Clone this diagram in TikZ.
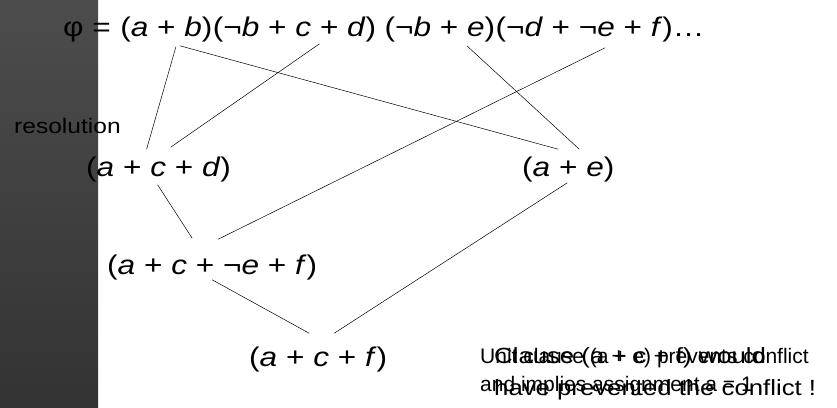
\documentclass[tikz,border=0pt]{standalone}
\usepackage{fontspec}
\setmainfont{Liberation Sans}[FakeStretch=1.17]
\newfontfamily\plainsans{Liberation Sans}
\usetikzlibrary{calc}
\begin{document}
\begin{tikzpicture}[x=1pt,y=-1pt,
  big/.style={inner sep=0pt,anchor=base west,font=\fontsize{27}{32}\selectfont},
  link/.style={draw=black,line width=0.5pt},
  note/.style={inner sep=0pt,anchor=north west,align=left}]
\useasboundingbox (0,0) rectangle (837,407);
\shade[top color=black!70,bottom color=black!80] (0,0) rectangle (98,407);
% formula
\node[big] (phi) at (63,36) {φ =};
\node[big] (c1) at ([xshift=9]phi.base east) {(\textit{a} + \textit{b})};
\node[big] (c2) at (c1.base east) {(¬\textit{b} + \textit{c} + \textit{d})};
\node[big] (c3) at ([xshift=8]c2.base east) {(¬\textit{b} + \textit{e})};
\node[big] (c4) at (c3.base east) {(¬\textit{d} + ¬\textit{e} + \textit{f})…};
% resolvents
\node[inner sep=0pt,anchor=base west,font=\fontsize{21}{25}\selectfont] (res) at (14,133) {resolution};
\node[big] (acd) at (86,176) {(\textit{a} + \textit{c} + \textit{d})};
\node[big] (ae) at (522,176) {(\textit{a} + \textit{e})};
\node[big] (acef) at (107,274) {(\textit{a} + \textit{c} + ¬\textit{e} + \textit{f})};
\node[big] (acf) at (249,366) {(\textit{a} + \textit{c} + \textit{f})};
% notes
\node[note,font=\plainsans\fontsize{21}{28}\selectfont] (n1) at (480,348) {Unit clause (a + e) prevents conflict\\and implies assignment a = 1};
\node[note,font=\fontsize{22}{32}\selectfont] (n2) at (494,347) {Clause (a + c + f) would\\have prevented the conflict !};
% connectors
\draw[link] ($(c1.south)+(9.5,5)$) -- ($(acd.north)+(-12,-7)$);
\draw[link] ($(c1.south)+(13.5,4)$) -- ($(ae.north)+(-10,-7)$);
\draw[link] ($(c2.south)+(25,2)$) -- ($(acd.north)+(12,-9)$);
\draw[link] ($(c3.south)+(27,4)$) -- ($(ae.north)+(11,-7)$);
\draw[link] ($(c4.south)+(5,6)$) -- ($(acef.north)+(6,-15)$);
\draw[link] ($(acd.south)+(-1,3)$) -- ($(acef.north)+(-20,-16)$);
\draw[link] ($(acef.south)+(0,0)$) -- ($(acf.north)+(-9,-13)$);
\draw[link] ($(ae.south)+(-1,1)$) -- ($(acf.north)+(16,-13)$);
\end{tikzpicture}
\end{document}
